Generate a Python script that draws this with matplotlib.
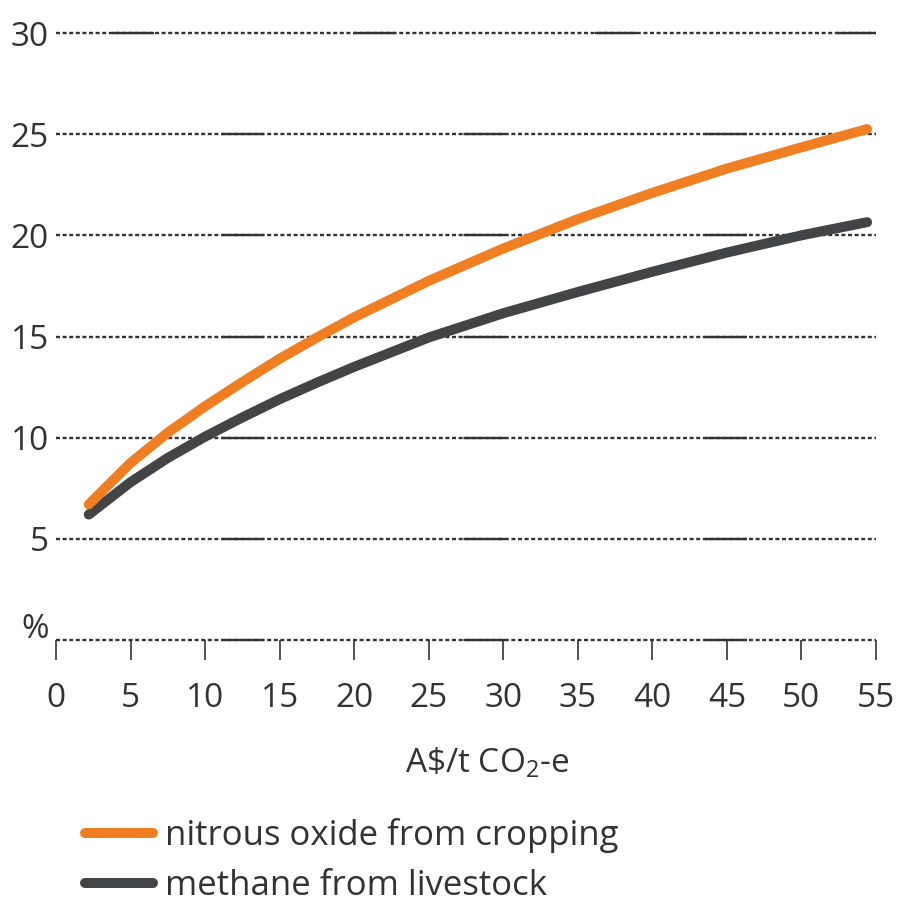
import matplotlib
matplotlib.use('Agg')
import matplotlib.pyplot as plt
import matplotlib.transforms as mtransforms

# 數據：碳價 (A$/t CO2-e) 與減排比例 (%)
price = [2.2, 5, 7.5, 10, 12.5, 15, 17.5, 20, 25, 30, 35, 40, 45, 50, 54.4]
nitrous = [6.7, 8.75, 10.25, 11.55, 12.75, 13.9, 14.95, 15.95, 17.75, 19.35, 20.8, 22.1, 23.3, 24.35, 25.25]
methane = [6.2, 7.8, 9.0, 10.05, 11.0, 11.9, 12.72, 13.5, 14.95, 16.15, 17.2, 18.2, 19.15, 20.0, 20.65]

x_ticks = [0, 5, 10, 15, 20, 25, 30, 35, 40, 45, 50, 55]
y_grid = [0, 5, 10, 15, 20, 25, 30]
labels = ['nitrous oxide from cropping', 'methane from livestock']

orange = '#ef7f22'
charcoal = '#434446'
ink = '#333333'

plt.rcParams['font.family'] = ['Open Sans', 'DejaVu Sans']
plt.rcParams['mathtext.fontset'] = 'custom'
plt.rcParams['mathtext.rm'] = 'Open Sans'
plt.rcParams['lines.scale_dashes'] = False

fig = plt.figure(figsize=(8.99, 9.05), dpi=100)
fig.patch.set_facecolor('white')
ax = fig.add_axes([56 / 899, 1 - 640 / 905, 820 / 899, 607 / 905])
ax.set_xlim(0, 55)
ax.set_ylim(0, 30)
for s in ax.spines.values():
    s.set_visible(False)

# 點線網格 + 週期性實線段（仿原圖）
px = 0.72
for y in y_grid:
    ax.axhline(y, color=ink, lw=1.7, clip_on=False, zorder=1,
               linestyle=(0, (4 * px, 2.6 * px)))
    off = (185.5 if y == 30 else 75.5) * px
    ax.axhline(y, color=ink, lw=1.7, clip_on=False, zorder=1,
               linestyle=(off, (42 * px, 199.5 * px)))

ax.plot(price, nitrous, color=orange, lw=7.2, solid_capstyle='round',
        label=labels[0], zorder=3)
ax.plot(price, methane, color=charcoal, lw=7.2, solid_capstyle='round',
        label=labels[1], zorder=2)

ax.set_xticks(x_ticks)
ax.set_yticks(y_grid[1:])
ax.tick_params(axis='x', direction='out', length=14.4, width=1.2, color=ink,
               labelsize=24, labelcolor=ink, pad=15.5)
ax.tick_params(axis='y', length=0, labelsize=24, labelcolor=ink, pad=5)

trans = mtransforms.blended_transform_factory(ax.transAxes, ax.transData)
ax.text(-0.009, 0.1, '%', transform=trans, ha='right', va='baseline',
        fontsize=24, color=ink)

ax.set_xlabel('A\\$/t CO$_{2}$-e', fontsize=24, color=ink, va='baseline')
ax.xaxis.set_label_coords(0.526, -0.2175)

leg = ax.legend(loc='upper left', bbox_to_anchor=(85 / 899, 1 - 818 / 905),
                bbox_transform=fig.transFigure, frameon=False, fontsize=25,
                handlelength=1.95, handletextpad=0.35, labelspacing=0.46,
                borderpad=0, borderaxespad=0)
for t in leg.get_texts():
    t.set_color(ink)

fig.savefig('out.png', dpi=100, facecolor='white')
